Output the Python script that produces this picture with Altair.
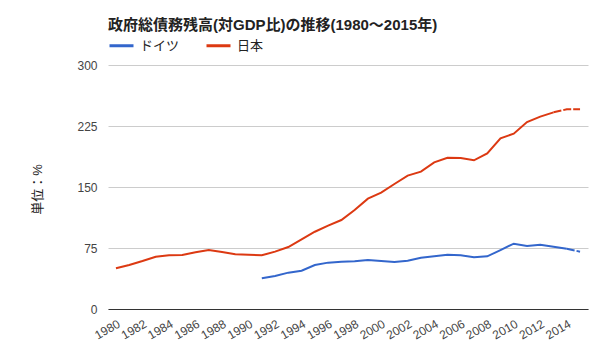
import altair as alt
import pandas as pd

years = list(range(1980, 2016))
japan = [50.0, 54.1, 59.0, 64.3, 66.0, 66.4, 69.7, 72.5, 70.0, 67.2,
         66.8, 66.0, 70.5, 76.2, 85.7, 95.0, 102.5, 109.4, 121.7, 135.7,
         143.0, 153.7, 164.0, 168.9, 180.3, 186.0, 185.7, 182.8, 191.4, 209.9,
         215.6, 229.9, 236.5, 241.8, 245.5, 245.5]
germany = [None] * 11 + [37.7, 40.6, 44.7, 47.1, 54.1, 57.0, 58.2, 58.6, 60.2,
                         59.0, 57.8, 59.4, 63.1, 64.8, 66.8, 66.0, 63.5, 64.8, 72.5,
                         80.3, 77.5, 79.1, 76.6, 74.1, 70.5]
series_names = ["ドイツ", "日本"]
series_colors = ["#3366cc", "#dc3912"]
dash_from = {"ドイツ": 2014, "日本": 2013}
x_labels = list(range(1980, 2015, 2))
y_ticks = [0, 75, 150, 225, 300]

rows = []
for name, vals in (("ドイツ", germany), ("日本", japan)):
    for y, v in zip(years, vals):
        if v is None:
            continue
        if y <= dash_from[name]:
            rows.append({"year": y, "value": v, "series": name, "part": "solid"})
        if y >= dash_from[name]:
            rows.append({"year": y, "value": v, "series": name, "part": "dashed"})
df = pd.DataFrame(rows)

FONT = "Liberation Sans, Arial, Noto Sans CJK JP"

x = alt.X("year:Q",
          scale=alt.Scale(domain=[1979.4, 2015.6], nice=False, zero=False),
          axis=alt.Axis(values=x_labels, format="d", labelAngle=-30, ticks=False,
                        grid=False, domainColor="#333333", domainWidth=1,
                        labelColor="#444444", labelFontSize=12, labelPadding=9,
                        labelFont=FONT, title=None, labelOverlap=False))
y = alt.Y("value:Q",
          scale=alt.Scale(domain=[0, 300], nice=False),
          axis=alt.Axis(values=y_ticks, ticks=False, domain=False, gridColor="#cccccc",
                        labelColor="#444444", labelFontSize=12, labelPadding=11,
                        labelFont=FONT, title="単位：%", titleFont=FONT,
                        titleFontSize=13, titleFontWeight="normal", titleColor="#222222",
                        titleAngle=-90, titleX=-71, titleY=124, titleBaseline="middle",
                        titleAlign="center"))
color = alt.Color("series:N",
                  scale=alt.Scale(domain=series_names, range=series_colors),
                  legend=alt.Legend(title=None, orient="none", legendX=0, legendY=-33,
                                    direction="horizontal", symbolType="stroke",
                                    symbolSize=576, symbolStrokeWidth=3,
                                    labelFontSize=13, labelColor="#222222",
                                    labelFont=FONT, labelOffset=5, columnPadding=20,
                                    padding=0))

solid = alt.Chart(df).transform_filter(alt.datum.part == "solid").mark_line(
    strokeWidth=2).encode(x=x, y=y, color=color, detail="series:N")
dashed = alt.Chart(df).transform_filter(alt.datum.part == "dashed").mark_line(
    strokeWidth=2, strokeDash=[8, 2]).encode(
    x=x, y=y, color=alt.Color("series:N", scale=alt.Scale(domain=series_names, range=series_colors), legend=None),
    detail="series:N")

chart = alt.layer(solid, dashed).properties(
    width=480, height=244,
    title=alt.TitleParams("政府総債務残高(対GDP比)の推移(1980～2015年)", anchor="start",
                          font=FONT, fontSize=15, fontWeight="bold", color="#222222",
                          baseline="alphabetic", offset=3, dy=16, frame="group"),
    autosize=alt.AutoSizeParams(type="none"),
    padding={"left": 100, "top": 57, "right": 4, "bottom": 43},
).configure_view(stroke=None)

chart.save("out.html", embed_options={"renderer": "svg", "actions": False})
